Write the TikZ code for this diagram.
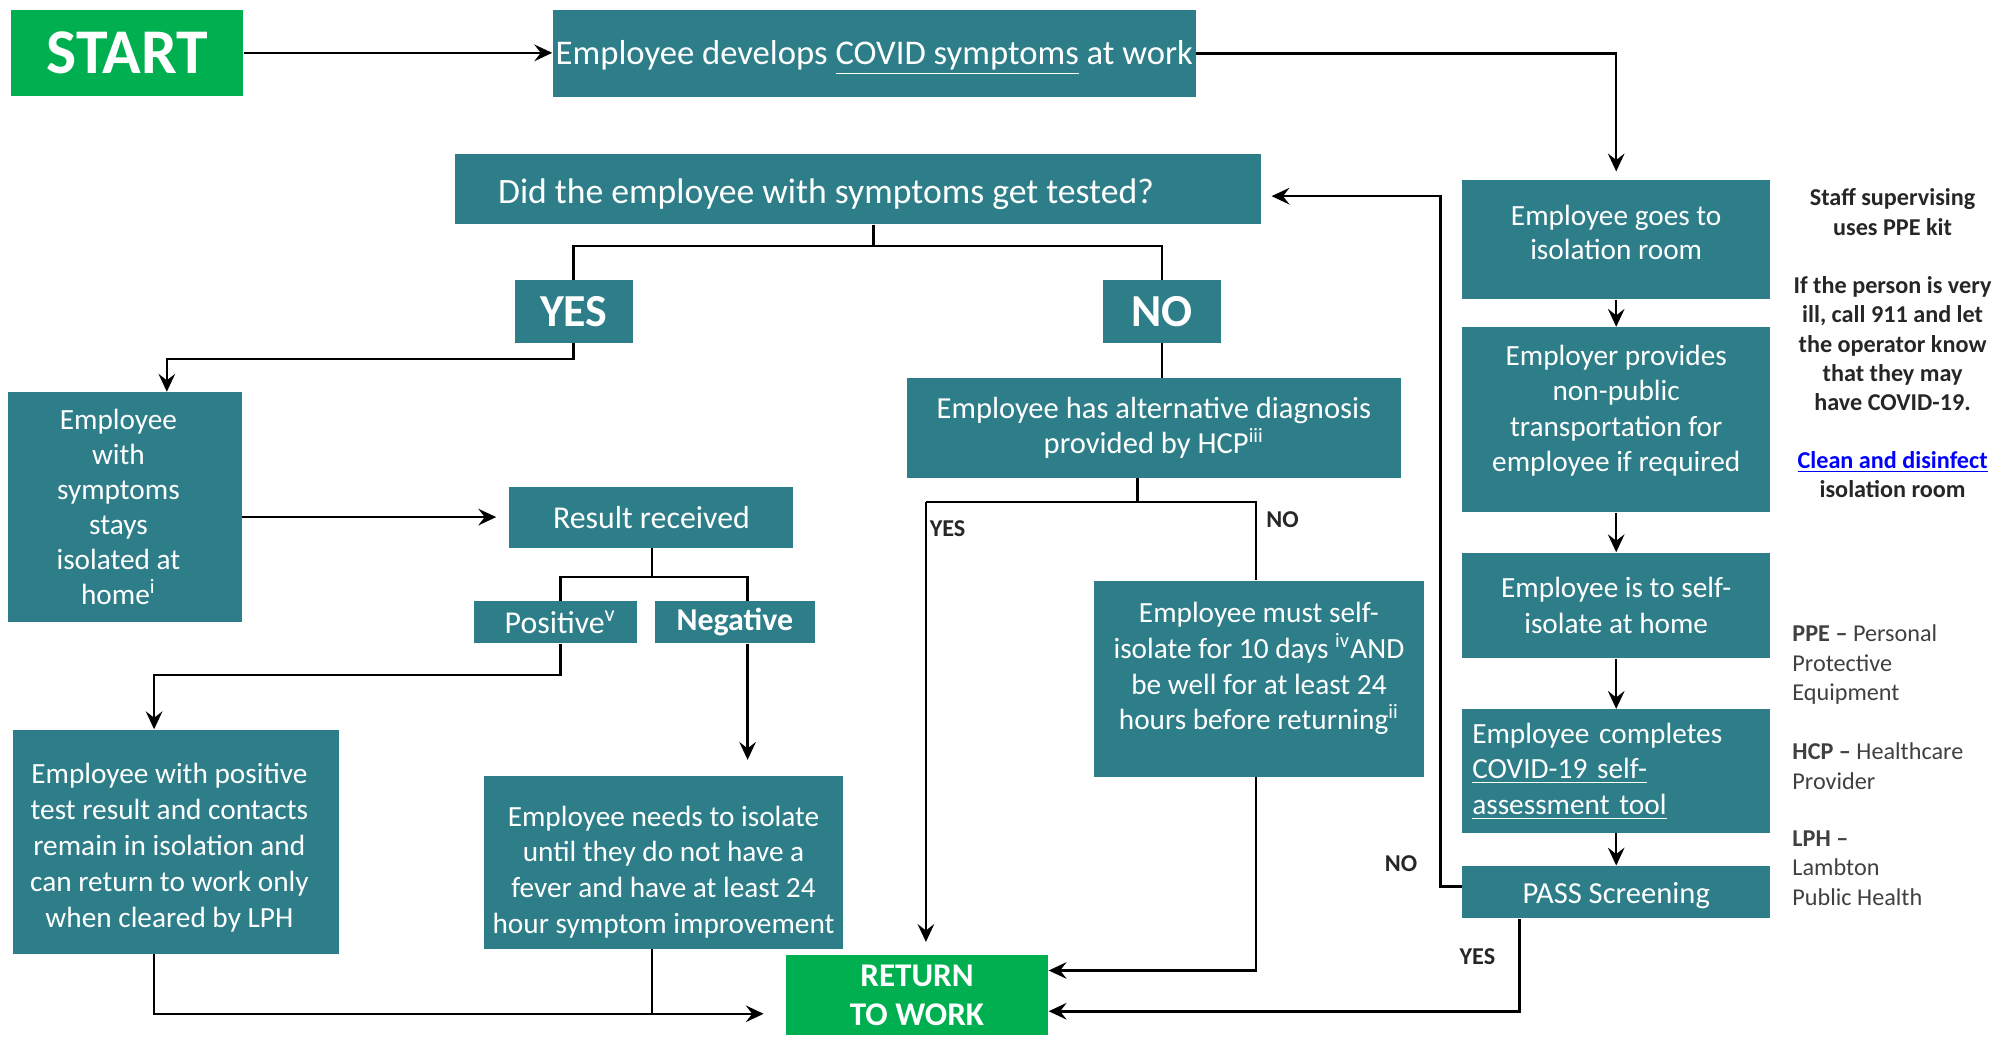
\documentclass[tikz,border=0pt]{standalone}
\usepackage{fontspec}
\setmainfont{Carlito}
\usetikzlibrary{arrows.meta,calc}
\definecolor{teal1}{HTML}{2E7E8A}
\definecolor{green1}{HTML}{00B050}
\definecolor{txtdark}{HTML}{262626}
\definecolor{txtgrey}{HTML}{404040}
\definecolor{linkblue}{HTML}{0000FF}
\tikzset{
  sz/.style 2 args={minimum width=#1*0.5pt, minimum height=#2*0.5pt},
  box/.style={fill=teal1, text=white, inner sep=0pt, align=center, font=\fontsize{11.5}{14}\selectfont},
  btxt/.style={text=white, inner sep=0pt, align=center, font=\fontsize{11.5}{14}\selectfont},
  gbox/.style={fill=green1, text=white, inner sep=0pt, align=center},
  conn/.style={line width=1pt, draw=black},
  arr/.style={conn, -{Stealth[length=7pt,width=6.5pt,inset=2.5pt]}},
  lbl/.style={font=\bfseries\fontsize{9.5}{11}\selectfont, text=txtdark, inner sep=0pt},
  note/.style={font=\bfseries\fontsize{9.5}{11.5}\selectfont, text=txtdark, align=center, inner sep=0pt},
  legend/.style={font=\fontsize{9.5}{11.5}\selectfont, text=txtgrey, align=left, inner sep=0pt, anchor=west},
}
\begin{document}
\begin{tikzpicture}[x=0.5pt,y=-0.5pt]
\useasboundingbox (0,0) rectangle (1568,814);

% ---------- boxes ----------
\node[gbox, sz={182}{67}, font=\bfseries\fontsize{25}{28}\selectfont] (start) at (100,41.5) {START};
\node[box, sz={505}{68}, label={[btxt, yshift=-1.5pt, font=\fontsize{13.6}{16}\selectfont]center:{Employee develops \underline{COVID symptoms} at work}}] (dev) at (686.5,42) {};
\node[box, sz={633}{55}, label={[btxt, yshift=-2pt, xshift=-12.5pt, font=\fontsize{14}{17}\selectfont]center:{Did the employee with symptoms get tested?}}] (tested) at (673.5,148.5) {};
\node[box, sz={93}{49}, font=\bfseries\fontsize{18}{20}\selectfont] (yes) at (450.5,244.5) {YES};
\node[box, sz={93}{49}, font=\bfseries\fontsize{18}{20}\selectfont] (no) at (912.5,244.5) {NO};
\node[box, sz={184}{180}, label={[btxt, xshift=-2.5pt, font=\fontsize{11.5}{13.75}\selectfont]center:{Employee\\with\\symptoms\\stays\\isolated at\\home\textsuperscript{i}}}] (stays) at (98,398) {};
\node[box, sz={223}{48}, font=\fontsize{12.5}{15}\selectfont] (result) at (511.5,406) {Result received};
\node[box, sz={128}{33}, label={[btxt, xshift=2pt, font=\fontsize{12.5}{15}\selectfont]center:{Positive\textsuperscript{v}}}] (pos) at (436,488.5) {};
\node[box, sz={126}{33}, font=\bfseries\fontsize{12.5}{15}\selectfont] (neg) at (577,488.5) {Negative};
\node[box, sz={256}{176}, label={[btxt, yshift=-2.25pt, xshift=-2.5pt, font=\fontsize{11.5}{14.1}\selectfont]center:{Employee with positive\\test result and contacts\\remain in isolation and\\can return to work only\\when cleared by LPH}}] (posbox) at (138,661) {};
\node[box, sz={282}{136}, label={[btxt, yshift=-3.75pt]center:{Employee needs to isolate\\until they do not have a\\fever and have at least 24\\hour symptom improvement}}] (negbox) at (521,677) {};
\node[gbox, sz={206}{63}, font=\bfseries\fontsize{13}{15}\selectfont] (rtw) at (720,781.5) {RETURN\\TO WORK};
\node[box, sz={388}{78}, font=\fontsize{12}{14}\selectfont] (alt) at (906,336) {Employee has alternative diagnosis\\provided by HCP\textsuperscript{iii}};
\node[box, sz={259}{154}, label={[btxt, yshift=4pt]center:{Employee must self-\\isolate for 10 days \textsuperscript{iv}AND\\be well for at least 24\\hours before returning\textsuperscript{ii}}}] (selfiso) at (988.5,533) {};
\node[box, sz={242}{94}, label={[btxt, yshift=2.75pt, font=\fontsize{11.5}{13.6}\selectfont]center:{Employee goes to\\isolation room}}] (iso) at (1269,188) {};
\node[box, sz={242}{145}, label={[btxt, yshift=3.5pt, font=\fontsize{11.5}{13.9}\selectfont]center:{Employer provides\\non-public\\transportation for\\employee if required}}] (transp) at (1269,329.5) {};
\node[box, sz={242}{83}] (home) at (1269,475.5) {Employee is to self-\\isolate at home};
\node[box, sz={242}{97}, align=left, text width=113pt] (tool) at (1269,605.5) {Employee completes\\\underline{COVID-19 self-}\\\underline{assessment tool}};
\node[box, sz={242}{41}, label={[btxt, yshift=-1.5pt, font=\fontsize{12}{14}\selectfont]center:{PASS Screening}}] (pass) at (1269,700.5) {};

% ---------- connectors ----------
\draw[arr] (start.east) -- (start.east -| dev.west);
\draw[arr, shorten >=3pt] (dev.east) -| (iso.north);

\coordinate (tj) at (686,193);
\draw[conn] (tested.south -| tj) -- (tj);
\draw[conn] (yes.north) |- (tj) -| (no.north);

\coordinate (ya) at (131,282);
\draw[arr] (yes.south) |- (ya) -- (ya |- stays.north);
\draw[arr, shorten >=5pt] (stays.east |- result.west) -- (result.west);

\coordinate (rj) at (512,453);
\coordinate (pj) at (440,453);
\coordinate (nj) at (587,453);
\draw[conn] (rj |- result.south) -- (rj);
\draw[conn] (pj |- pos.north) -- (pj) -- (nj) -- (nj |- neg.north);
\coordinate (pa) at (121,530);
\draw[arr] (pj |- pos.south) |- (pa) -- (pa |- posbox.north);
\draw[arr, shorten >=6pt] (nj |- neg.south) -- (nj |- negbox.north);

\coordinate (rb) at (121,796);
\coordinate (nb) at (512,796);
\draw[arr, shorten >=8.5pt] (rb |- posbox.south) -- (rb) -- (rb -| rtw.west);
\draw[conn] (nb |- negbox.south) -- (nb);

\draw[conn] (no.south) -- (no.south |- alt.north);
\coordinate (aj) at (893,394);
\coordinate (ayes) at (727,394);
\coordinate (ano) at (986,394);
\draw[conn] (aj |- alt.south) -- (aj);
\draw[conn] (ayes) -- (ano) -- (ano |- selfiso.north);
\draw[arr, shorten >=5pt] (ayes) -- (ayes |- rtw.north);
\node[lbl] (lyes1) at (744,415) {YES};
\node[lbl] (lno1) at (1007,408) {NO};

\coordinate (sb) at (986,762);
\draw[arr] (sb |- selfiso.south) -- (sb) -- (sb -| rtw.east);

\draw[arr] (iso.south) -- (transp.north);
\draw[arr] (transp.south) -- (home.north);
\draw[arr] (home.south) -- (tool.north);
\draw[arr] (tool.south) -- (pass.north);

\coordinate (pn) at (1131,696);
\coordinate (pt) at (1131,154);
\draw[arr, shorten >=4pt] (pass.west |- pn) -- (pn) -- (pt) -- (pt -| tested.east);
\node[lbl] (lno2) at (1100,678) {NO};

\coordinate (py) at (1193,794);
\draw[arr] (py |- pass.south) -- (py) -- (py -| rtw.east);
\node[lbl] (lyes2) at (1160,751) {YES};

% ---------- notes ----------
\node[note] (n1) at (1486,166.5) {Staff supervising\\uses PPE kit};
\node[note] (n2) at (1486,270) {If the person is very\\ill, call 911 and let\\the operator know\\that they may\\have COVID-19.};
\node[note] (n3) at (1486,372.5) {\textcolor{linkblue}{\underline{Clean and disinfect}}\\isolation room};
\node[legend] (l1) at (1407,522) {\textbf{PPE –} Personal\\Protective\\Equipment};
\node[legend] (l2) at (1407,601.5) {\textbf{HCP –} Healthcare\\Provider};
\node[legend] (l3) at (1407,681.5) {\textbf{LPH –}\\Lambton\\Public Health};
\end{tikzpicture}
\end{document}
